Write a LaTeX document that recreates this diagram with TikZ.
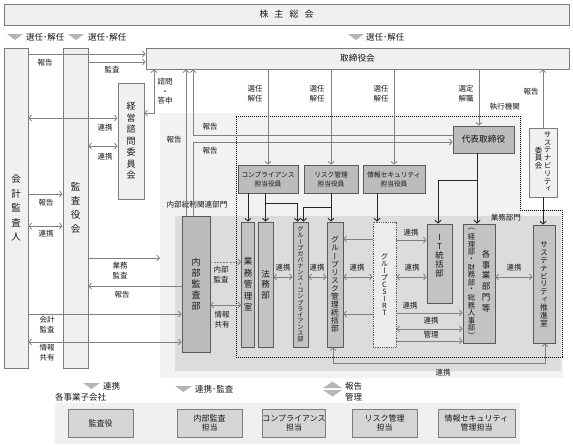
\documentclass[tikz,border=0pt]{standalone}
\usepackage{fontspec}
\usepackage{graphicx}
\setmainfont{Noto Sans CJK JP}
\newfontfamily\jpv[RawFeature=+vert]{Noto Sans CJK JP}
\usetikzlibrary{arrows.meta}
\definecolor{txt}{HTML}{161616}
\definecolor{ln}{HTML}{808080}
\definecolor{bdl}{HTML}{7C7C7C}
\definecolor{bdd}{HTML}{5A5A5A}
\definecolor{lf}{HTML}{F0F0F0}
\definecolor{df}{HTML}{BCBCBC}
\definecolor{cf}{HTML}{C3C3C3}
\definecolor{rl}{HTML}{F2F2F2}
\definecolor{rm}{HTML}{DCDCDC}
\definecolor{trif}{HTML}{B5B5B5}
\definecolor{sbf}{HTML}{D5D5D5}
\definecolor{csf}{HTML}{ECECEC}
\makeatletter
\newlength\vtpitch
\newcommand\vt[2]{\vbox{\offinterlineskip\setlength\vtpitch{#1}\vt@a#2\@nil}}
\def\vt@a#1{\ifx#1\@nil\else\vbox to\vtpitch{\vss\hbox to 1em{\hss#1\hss}\vss}\expandafter\vt@a\fi}
\makeatother
\tikzset{
  lbl/.style={font=\fontsize{7.5}{10}\selectfont, text=txt, inner sep=0pt, align=center},
  big/.style={font=\fontsize{8.5}{9}\selectfont, text=txt, inner sep=0pt},
  lbox/.style={draw=bdl, fill=lf, line width=0.7pt, inner sep=0pt, text=txt},
  dbox/.style={draw=bdd, fill=df, line width=0.7pt, inner sep=0pt, text=txt, align=center},
  colbox/.style={draw=bdd, fill=cf, line width=0.7pt, inner sep=0pt, text=txt},
  csbox/.style={draw=bdd, fill=csf, line width=0.7pt, dash pattern=on 1pt off 0.8pt, inner sep=0pt, text=txt},
  sbox/.style={draw=bdl, fill=sbf, line width=0.7pt, inner sep=0pt, text=txt, align=center, font=\fontsize{8}{9.5}\selectfont},
  garr/.style={draw=ln, line width=0.75pt, -{Straight Barb[length=2.8pt,width=6pt]}},
  gdarr/.style={draw=ln, line width=0.75pt, {Straight Barb[length=2.8pt,width=6pt]}-{Straight Barb[length=2.8pt,width=6pt]}},
  barr/.style={draw=black!85, line width=0.9pt, -{Straight Barb[length=2.8pt,width=6pt]}},
  vf/.style={font=\fontsize{#1}{#1}\selectfont\jpv, text=txt, inner sep=0pt},
}
\begin{document}
\begin{tikzpicture}[x=1pt,y=-1pt]
\useasboundingbox (0,0) rectangle (573,447);
% regions
\fill[rl] (160,113) -- (522,113) -- (522,209) -- (563,209) -- (563,378) -- (160,378) -- cycle;
\fill[rm] (175,216) rectangle (561,371);
\draw[black, line width=0.8pt, dash pattern=on 1.2pt off 0.8pt] (236,116) -- (520,116) -- (520,210) -- (562,210) -- (562,357) -- (236,357) -- cycle;
\node[lbl, anchor=east] (lexec) at (520,107) {執行機関};
\node[lbl, anchor=east] (lbiz) at (521,218) {業務部門};
\node[lbl, font=\fontsize{7.6}{9}\selectfont] (lnaibu) at (197,205) {内部統制関連部門};
% main boxes
\node[lbox, minimum width=565, minimum height=21, font=\fontsize{9}{9}\selectfont] (kabu) at (286.5,14.5) {株\hspace{6pt}主\hspace{6pt}総\hspace{6pt}会};
\node[lbox, minimum width=24, minimum height=320] (kaikei) at (16,208) {\fontsize{9.5}{9.5}\selectfont\jpv\vt{14.5pt}{会計監査人}};
\node[lbox, minimum width=25, minimum height=320] (kansa) at (75.5,208) {\fontsize{9.5}{9.5}\selectfont\jpv\vt{14pt}{監査役会}};
\node[lbox, minimum width=423, minimum height=21, font=\fontsize{8.7}{9}\selectfont] (tori) at (357.5,58.5) {取締役会};
\node[lbox, minimum width=26, minimum height=116] (keiei) at (131,141) {\fontsize{9}{9}\selectfont\jpv\vt{11.5pt}{経営諮問委員会}};
\node[dbox, minimum width=61, minimum height=27, font=\fontsize{8.7}{9}\selectfont] (daihyo) at (483.5,139.5) {代表取締役};
\node[lbox, minimum width=28, minimum height=69] (suscom) at (543,162.5) {};
\node[vf=7.5] (suscomA) at (547.5,162) {\vt{7.8pt}{サステナビリティ}};
\node[vf=7.5] (suscomB) at (538.5,158) {\vt{7.8pt}{委員会}};
\node[dbox, minimum width=60, minimum height=28, font=\fontsize{6.7}{9}\selectfont] (komp) at (268,179) {コンプライアンス\\担当役員};
\node[dbox, minimum width=54, minimum height=28, font=\fontsize{6.7}{9}\selectfont] (riskof) at (331,179) {リスク管理\\担当役員};
\node[dbox, minimum width=62, minimum height=28, font=\fontsize{6.7}{9}\selectfont] (secof) at (394,179) {情報セキュリティ\\担当役員};
% columns
\node[dbox, minimum width=28, minimum height=136] (naibu) at (196,284) {\fontsize{9}{9}\selectfont\jpv\vt{11pt}{内部監査部}};
\node[colbox, minimum width=13, minimum height=125] (gyomu) at (248,284.5) {\fontsize{8.5}{8.5}\selectfont\jpv\vt{11.5pt}{業務管理室}};
\node[colbox, minimum width=15, minimum height=125] (homu) at (265.5,284.5) {\fontsize{8.5}{8.5}\selectfont\jpv\vt{10.5pt}{法務部}};
\node[colbox, minimum width=15, minimum height=125] (gov) at (300.5,284.5) {\fontsize{6.2}{6.2}\selectfont\jpv\vt{6.1pt}{グループガバナンス・コンプライアンス部}};
\node[colbox, minimum width=16, minimum height=125] (risk) at (335,284.5) {\fontsize{7.7}{7.7}\selectfont\jpv\vt{8.1pt}{グループリスク管理統括部}};
\node[csbox, minimum width=23, minimum height=125] (csirt) at (384.5,284.5) {\fontsize{7.2}{7.2}\selectfont\jpv\vt{7pt}{グループCSIRT}};
\node[colbox, minimum width=25, minimum height=79] (it) at (439.5,263.5) {};
\node[vf=8.3] (itT) at (439.5,255) {\vt{9pt}{IT統括部}};
\node[colbox, minimum width=32, minimum height=119] (kaku) at (479,283.5) {};
\node[vf=8.5] (kakuA) at (486,281) {\vt{10.8pt}{各事業部門等}};
\node[vf=7.3] (kakuB) at (471.5,282.5) {\vt{7.6pt}{（経理部・財務部・総務人事部）}};
\node[colbox, minimum width=22, minimum height=118] (susu) at (544,284) {\fontsize{7.7}{7.7}\selectfont\jpv\vt{7.8pt}{サステナビリティ推進室}};
% top triangles
\fill[trif] (7,34) -- (23,34) -- (15,40) -- cycle;
\fill[trif] (68,34) -- (84,34) -- (76,40) -- cycle;
\fill[trif] (348,34) -- (364,34) -- (356,40) -- cycle;
\node[big, anchor=west] (s1) at (26,37) {選任･解任};
\node[big, anchor=west] (s2) at (88,37) {選任･解任};
\node[big, anchor=west] (s3) at (366,37) {選任･解任};
% left side arrows
\draw[garr] (kaikei.east |- 0,54) -- (tori.west |- 0,54);
\node[lbl] (l1) at (45,63) {報告};
\draw[garr] (kansa.east |- 0,62) -- (tori.west |- 0,62);
\node[lbl] (l2) at (112,70) {監査};
\draw[gdarr] (kaikei.east |- 0,118) -- (keiei.west |- 0,118);
\node[lbl] (l3) at (105,128) {連携};
\draw[gdarr] (kansa.east |- 0,146) -- (keiei.west |- 0,146);
\node[lbl] (l4) at (105,157) {連携};
\draw[garr] (kaikei.east |- 0,194) -- (kansa.west |- 0,194);
\node[lbl] (l5) at (46,203) {報告};
\draw[gdarr] (kaikei.east |- 0,226) -- (kansa.west |- 0,226);
\node[lbl] (l6) at (46,234) {連携};
\coordinate (regL) at (160,258);
\draw[garr] (kansa.east |- regL) -- (regL);
\node[lbl] (l7) at (120,271) {業務\\監査};
\draw[garr] (naibu.west |- 0,286) -- (kansa.east |- 0,286);
\node[lbl] (l8) at (122,295) {報告};
\draw[garr] (kaikei.east |- 0,314) -- (naibu.west |- 0,314);
\node[lbl] (l9) at (47,325) {会計\\監査};
\draw[gdarr] (kaikei.east |- 0,342) -- (naibu.west |- 0,342);
\node[lbl] (l10) at (47,353) {情報\\共有};
% advisory
\draw[gdarr] (tori.south -| 154,0) -- (154,113) -- (keiei.east |- 0,113);
\node[lbl, font=\fontsize{7.5}{9.5}\selectfont] (l11) at (165,91.5) {諮問\\・\\答申};
% internal audit reports
\draw[garr] (naibu.north -| 186,0) -- (tori.south -| 186,0);
\node[lbl] (l12) at (174,140) {報告};
\draw[garr] (naibu.north -| 193,0) -- (193,142) -- (daihyo.west |- 0,142);
\node[lbl] (l13) at (210,151) {報告};
\draw[garr] (daihyo.west |- 0,135) -- (193,135) -- (tori.south -| 193,0);
\node[lbl] (l14) at (210,127) {報告};
% appointments
\draw[garr] (tori.south -| komp.north) -- (komp.north);
\node[lbl] (l15) at (255,93.5) {選任\\解任};
\draw[garr] (tori.south -| riskof.north) -- (riskof.north);
\node[lbl] (l16) at (317,93.5) {選任\\解任};
\draw[garr] (tori.south -| secof.north) -- (secof.north);
\node[lbl] (l17) at (381,93.5) {選任\\解任};
\draw[garr] (tori.south -| 479,0) -- (daihyo.north -| 479,0);
\node[lbl] (l18) at (466,93.5) {選定\\解職};
\draw[garr] (suscom.north) -- (tori.south -| suscom.north);
\node[lbl] (l19) at (531,92) {報告};
% black arrows
\draw[barr] (komp.south -| gyomu.north) -- (gyomu.north);
\draw[barr] (komp.south -| homu.north) -- (homu.north);
\coordinate (j2) at (homu.north |- 0,203);
\draw[barr] (j2) -| ([xshift=-3pt]gov.north);
\draw[barr] (riskof.south) -- (riskof.south |- risk.north);
\coordinate (j3) at (riskof.south |- 0,207);
\draw[barr] (j3) -| ([xshift=3pt]gov.north);
\draw[barr] (secof.south -| 377,0) -- (csirt.north -| 377,0);
\draw[barr] (daihyo.south -| 477,0) -- (kaku.north -| 477,0);
\coordinate (j1) at (477,180);
\draw[barr] (j1) -| (it.north -| 438,0);
\draw[barr] (suscom.south) -- (suscom.south |- susu.north);
% middle links
\draw[gdarr] (homu.east |- 0,277) -- (gov.west |- 0,277);
\node[lbl] (m1) at (283,268) {連携};
\draw[gdarr] (gov.east |- 0,277) -- (risk.west |- 0,277);
\node[lbl] (m2) at (317,268) {連携};
\draw[garr] (csirt.west |- 0,239) -- (risk.east |- 0,239);
\draw[gdarr] (csirt.west |- 0,277) -- (risk.east |- 0,277);
\node[lbl] (m3) at (357,268) {連携};
\draw[garr] (csirt.west |- 0,314) -- (risk.east |- 0,314);
\draw[garr] (csirt.east |- 0,240) -- (it.west |- 0,240);
\node[lbl] (m4) at (411,233) {連携};
\draw[gdarr] (csirt.east |- 0,277) -- (it.west |- 0,277);
\node[lbl] (m5) at (412,268) {連携};
\draw[garr] (csirt.east |- 0,313) -- (kaku.west |- 0,313);
\node[lbl] (m6) at (410,306) {連携};
\draw[gdarr] (csirt.east |- 0,329) -- (kaku.west |- 0,329);
\node[lbl] (m7) at (431,321) {連携};
\draw[garr] (csirt.east |- 0,341) -- (kaku.west |- 0,341);
\node[lbl] (m8) at (431,335) {管理};
\draw[gdarr] (kaku.east |- 0,277) -- (susu.west |- 0,277);
\node[lbl] (m9) at (514,268) {連携};
\draw[garr, dash pattern=on 2pt off 1.2pt] (naibu.east |- 0,262) -- (gyomu.west |- 0,262);
\node[lbl] (m10) at (221,274.5) {内部\\監査};
\draw[gdarr] (naibu.east |- 0,305) -- (gyomu.west |- 0,305);
\node[lbl] (m11) at (222,320) {情報\\共有};
\draw[gdarr] (risk.south -| 333,0) -- (333,363) -- (545,363) -- (susu.south -| 545,0);
\node[lbl] (m12) at (443,373) {連携};
% bottom
\fill[trif] (83,383) -- (100,383) -- (91.5,389) -- cycle;
\node[big, anchor=west] (b1) at (103,386) {連携};
\fill[trif] (175,386) -- (192,386) -- (183.5,392) -- cycle;
\node[big, anchor=west] (b2) at (195,389) {連携･監査};
\fill[trif] (323,388) -- (342,388) -- (332.5,381.5) -- cycle;
\fill[trif] (323,390) -- (342,390) -- (332.5,396.5) -- cycle;
\node[big, anchor=west] (b3) at (345,386) {報告};
\node[big, anchor=west] (b4) at (345,397) {管理};
\node[big, anchor=west] (b5) at (55,397) {各事業子会社};
\fill[lf] (55,403) rectangle (520,444);
\node[sbox, minimum width=65, minimum height=28] (c1) at (100.5,423) {監査役};
\node[sbox, minimum width=65, minimum height=28] (c2) at (209.5,423) {内部監査\\担当};
\node[sbox, minimum width=62, minimum height=28] (c3) at (294,423) {コンプライアンス\\担当};
\node[sbox, minimum width=65, minimum height=28] (c4) at (384.5,423) {リスク管理\\担当};
\node[sbox, minimum width=77, minimum height=28] (c5) at (476.5,423) {情報セキュリティ\\管理担当};
\end{tikzpicture}
\end{document}
